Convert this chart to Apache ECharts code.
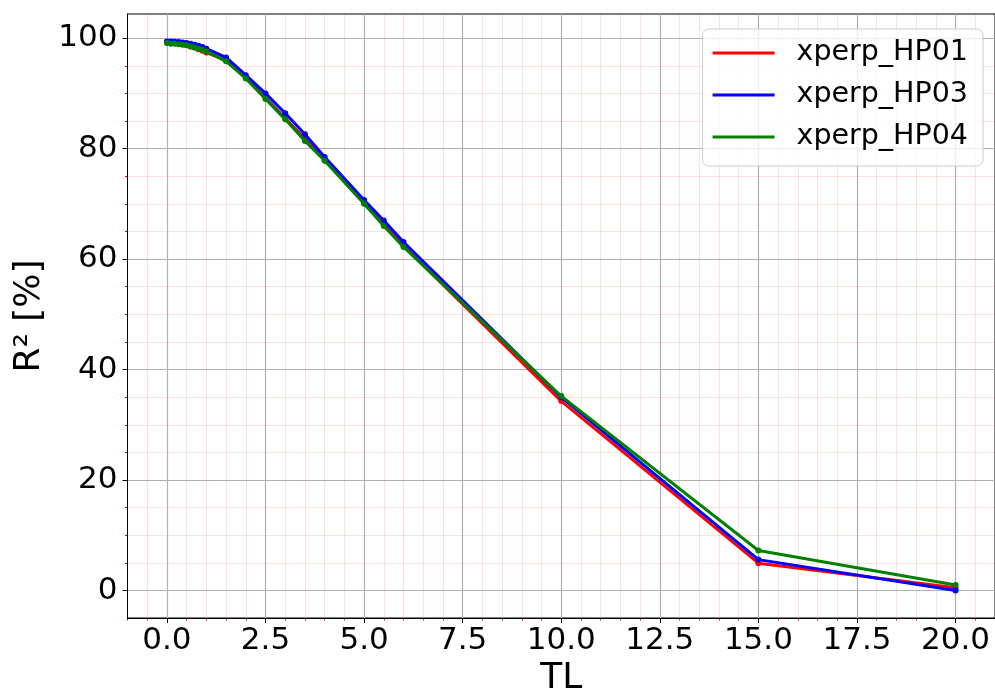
<!DOCTYPE html>
<html>
<head>
<meta charset="utf-8">
<script src="https://cdn.jsdelivr.net/npm/echarts@6/dist/echarts.min.js"></script>
<style>
html,body{margin:0;padding:0;background:#fff;}
#chart{width:995px;height:693px;}
</style>
</head>
<body>
<div id="chart"></div>
<script>
// ---- data ----
const tlValues = [0, 0.1, 0.2, 0.3, 0.4, 0.5, 0.6, 0.7, 0.8, 0.9, 1.0, 1.5, 2, 2.5, 3, 3.5, 4, 5, 5.5, 6, 10, 15, 20];
const hp01 = [99.3, 99.2, 99.1, 99.0, 98.9, 98.7, 98.5, 98.3, 98.0, 97.7, 97.4, 96.0, 92.8, 89.2, 85.5, 81.8, 77.9, 70.2, 66.3, 62.4, 34.3, 4.95, 0.5];
const hp03 = [99.4, 99.4, 99.35, 99.3, 99.2, 99.1, 99.0, 98.8, 98.6, 98.4, 98.1, 96.5, 93.3, 90.0, 86.4, 82.6, 78.5, 70.7, 67.0, 63.1, 35.0, 5.6, 0.0];
const hp04 = [99.1, 99.0, 99.0, 98.9, 98.8, 98.7, 98.5, 98.3, 98.1, 97.9, 97.6, 95.8, 92.7, 89.0, 85.3, 81.4, 77.8, 70.0, 66.0, 62.2, 35.2, 7.25, 1.0];
const seriesNames = ['xperp_HP01', 'xperp_HP03', 'xperp_HP04'];
const xMajorTicks = [0, 2.5, 5, 7.5, 10, 12.5, 15, 17.5, 20];
const xMinorTicks = [-1, -0.5, 0, 0.5, 1, 1.5, 2, 2.5, 3, 3.5, 4, 4.5, 5, 5.5, 6, 6.5, 7, 7.5, 8, 8.5, 9, 9.5, 10, 10.5, 11, 11.5, 12, 12.5, 13, 13.5, 14, 14.5, 15, 15.5, 16, 16.5, 17, 17.5, 18, 18.5, 19, 19.5, 20, 20.5, 21];
const yMajorTicks = [0, 20, 40, 60, 80, 100];
const yMinorTicks = [0, 5, 10, 15, 20, 25, 30, 35, 40, 45, 50, 55, 60, 65, 70, 75, 80, 85, 90, 95, 100];
const xRange = [-1, 21];
const yRange = [-4.97, 104.37];

const colors = ['#ff0000', '#0000ff', '#008000'];
const FONT = 'DejaVu Sans';
const pairs = arr => tlValues.map((x, i) => [x, arr[i]]);

const chart = echarts.init(document.getElementById('chart'), null, {renderer: 'canvas'});

const gridDef = {left: 127.5, right: 0, top: 14, bottom: 75, containLabel: false, outerBoundsMode: 'none',
                 show: true, borderColor: '#000', borderWidth: 1, backgroundColor: 'transparent'};

const option = {
  animation: false,
  grid: [gridDef],
  xAxis: [
    {
      type: 'value', gridIndex: 0, min: xRange[0], max: xRange[1], position: 'bottom', z: 1,
      name: 'TL', nameLocation: 'middle', nameGap: 37,
      nameTextStyle: {fontFamily: FONT, fontSize: 36, color: '#000'},
      axisLine: {show: true, onZero: false, lineStyle: {color: '#000', width: 1}},
      axisTick: {show: true, customValues: xMajorTicks, length: 5, lineStyle: {color: '#000', width: 1}},
      axisLabel: {show: true, customValues: xMajorTicks, margin: 7, fontFamily: FONT, fontSize: 31, color: '#000',
                  formatter: v => Number(v).toFixed(1)},
      splitLine: {show: true, lineStyle: {color: '#b0b0b0', width: 1.2}}
    },
    {
      type: 'value', gridIndex: 0, min: xRange[0], max: xRange[1], position: 'bottom', z: 0,
      axisLine: {show: false, onZero: false},
      axisTick: {show: true, customValues: xMinorTicks, length: 2.5, lineStyle: {color: '#ff0000', width: 1}},
      axisLabel: {show: false},
      splitLine: {show: true, lineStyle: {color: 'rgba(255,0,0,0.12)', width: 1}}
    }
  ],
  yAxis: [
    {
      type: 'value', gridIndex: 0, min: yRange[0], max: yRange[1], position: 'left', z: 1,
      name: 'R² [%]', nameLocation: 'middle', nameGap: 79, nameRotate: 90,
      nameTextStyle: {fontFamily: FONT, fontSize: 36, color: '#000'},
      axisLine: {show: true, onZero: false, lineStyle: {color: '#000', width: 1}},
      axisTick: {show: true, customValues: yMajorTicks, length: 5, lineStyle: {color: '#000', width: 1}},
      axisLabel: {show: true, customValues: yMajorTicks, margin: 10, fontFamily: FONT, fontSize: 31, color: '#000'},
      splitLine: {show: true, lineStyle: {color: '#b0b0b0', width: 1.2}}
    },
    {
      type: 'value', gridIndex: 0, min: yRange[0], max: yRange[1], position: 'left', z: 0,
      axisLine: {show: false, onZero: false},
      axisTick: {show: true, customValues: yMinorTicks, length: 2.5, lineStyle: {color: '#ff0000', width: 1}},
      axisLabel: {show: false},
      splitLine: {show: true, lineStyle: {color: 'rgba(255,0,0,0.12)', width: 1}}
    }
  ],
  legend: {
    show: true, orient: 'vertical', right: 12, top: 29,
    icon: 'rect', itemWidth: 62, itemHeight: 3, itemGap: 12,
    padding: [9, 15, 14, 10],
    backgroundColor: 'rgba(255,255,255,0.8)', borderColor: '#cccccc', borderWidth: 1, borderRadius: 6,
    textStyle: {fontFamily: FONT, fontSize: 28.5, color: '#000', lineHeight: 30, padding: [0, 0, 0, 17]},
    data: seriesNames
  },
  series: [
    {name: seriesNames[0], type: 'line', xAxisIndex: 0, yAxisIndex: 0, data: pairs(hp01), color: colors[0],
     lineStyle: {width: 3}, symbol: 'circle', symbolSize: 6, showSymbol: true, z: 3},
    {name: seriesNames[1], type: 'line', xAxisIndex: 0, yAxisIndex: 0, data: pairs(hp03), color: colors[1],
     lineStyle: {width: 3}, symbol: 'circle', symbolSize: 6, showSymbol: true, z: 4},
    {name: seriesNames[2], type: 'line', xAxisIndex: 0, yAxisIndex: 0, data: pairs(hp04), color: colors[2],
     lineStyle: {width: 3}, symbol: 'circle', symbolSize: 6, showSymbol: true, z: 5}
  ]
};
chart.setOption(option);
</script>
</body>
</html>
